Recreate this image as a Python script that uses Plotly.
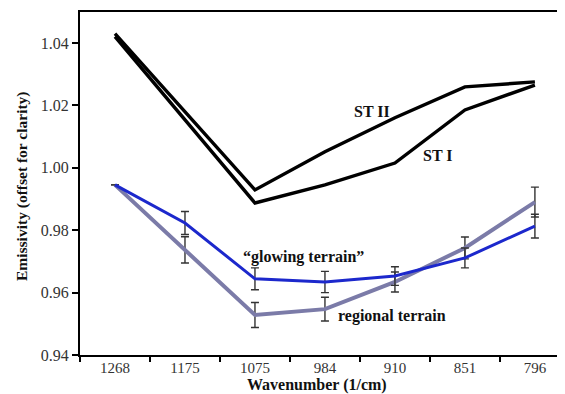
import plotly.graph_objects as go

wavenumbers = ["1268", "1175", "1075", "984", "910", "851", "796"]
st_ii = [1.0430, None, 0.9929, 1.0051, 1.0160, 1.0259, 1.0275]
st_i = [1.0420, None, 0.9887, 0.9945, 1.0015, 1.0185, 1.0265]
glowing = [0.9945, 0.9823, 0.9644, 0.9634, 0.9653, 0.9711, 0.9813]
glowing_err = [None, 0.0037, 0.0035, 0.0034, 0.0030, 0.0032, 0.0038]
regional = [0.9945, 0.9737, 0.9528, 0.9547, 0.9634, 0.9743, 0.9890]
regional_err = [None, 0.0042, 0.0040, 0.0038, 0.0032, 0.0035, 0.0048]
ytick_vals = [0.94, 0.96, 0.98, 1.00, 1.02, 1.04]
ytick_text = ["0.94", "0.96", "0.98", "1.00", "1.02", "1.04"]

fig = go.Figure()
for ys in (st_ii, st_i):
    fig.add_trace(go.Scatter(x=wavenumbers, y=ys, mode="lines", connectgaps=True,
                             line=dict(color="black", width=3.4), showlegend=False))

fig.add_trace(go.Scatter(x=wavenumbers, y=regional, mode="lines",
                         line=dict(color="#7b7ba8", width=4),
                         error_y=dict(type="data", array=regional_err, color="#333333",
                                      thickness=1.4, width=4),
                         showlegend=False))
fig.add_trace(go.Scatter(x=wavenumbers, y=glowing, mode="lines",
                         line=dict(color="#1c28cc", width=3),
                         error_y=dict(type="data", array=glowing_err, color="#333333",
                                      thickness=1.4, width=4),
                         showlegend=False))

lab_font = dict(family="Liberation Serif", size=16, color="#111111")
# labels placed in axis-domain fractions (plot area 485 x 343 px)
def dx(px):
    return (px - 80) / 485.0

def dy(py):
    return (355 - py) / 343.0

labels = [
    (372, 112, "<b>ST II</b>", "center"),
    (438, 155, "<b>ST I</b>", "center"),
    (303, 257, "<b>“glowing terrain”</b>", "center"),
    (336, 316, "<b>regional terrain</b>", "left"),
]
for px, py, t, anc in labels:
    fig.add_annotation(xref="x domain", yref="y domain", x=dx(px), y=dy(py), text=t,
                       showarrow=False, font=lab_font, xanchor=anc, yanchor="middle")

fig.add_annotation(xref="x domain", yref="y domain", x=dx(317), y=dy(385),
                   text="<b>Wavenumber (1/cm)</b>", showarrow=False,
                   font=dict(family="Liberation Serif", size=16, color="#111111"),
                   xanchor="center", yanchor="middle")
fig.add_annotation(xref="x domain", yref="y domain", x=dx(22), y=dy(186),
                   text="<b>Emissivity (offset for clarity)</b>", showarrow=False, textangle=-90,
                   font=dict(family="Liberation Serif", size=15.5, color="#111111"),
                   xanchor="center", yanchor="middle")

fig.update_layout(
    width=557, height=386,
    margin=dict(l=72, r=0, t=4, b=39),
    plot_bgcolor="white", paper_bgcolor="white",
    font=dict(family="Liberation Serif", size=16, color="#333333"),
    xaxis=dict(type="category", categoryorder="array", categoryarray=wavenumbers,
               range=[-0.5, 6.43], tickson="boundaries",
               ticks="outside", ticklen=5, tickwidth=2, tickcolor="black",
               tickfont=dict(size=15), ticklabelstandoff=-2,
               showline=True, linecolor="black", linewidth=2, mirror=True,
               showgrid=False, zeroline=False),
    yaxis=dict(range=[0.94, 1.0499], tickvals=ytick_vals, ticktext=ytick_text,
               ticks="outside", ticklen=6, tickwidth=2, tickcolor="black",
               showline=True, linecolor="black", linewidth=2,
               showgrid=False, zeroline=False),
)

fig.write_html("out.html")
